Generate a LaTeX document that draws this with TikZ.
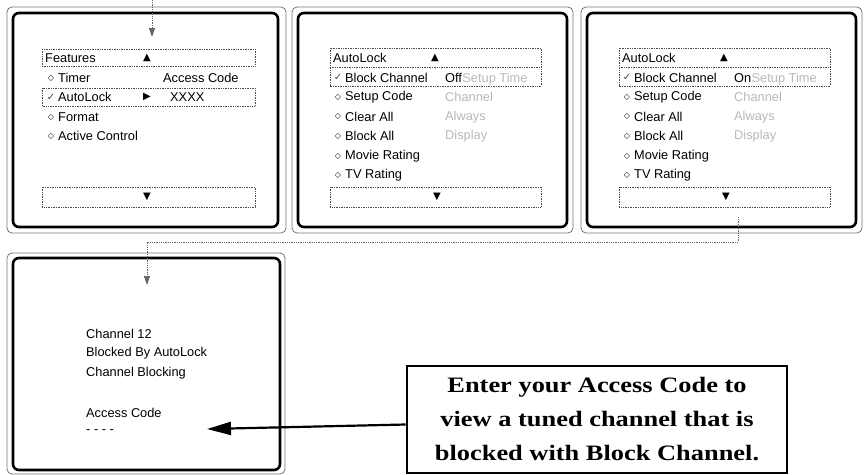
\documentclass[tikz,border=0pt]{standalone}
\usepackage{fontspec}
\setmainfont{Liberation Sans}
\newfontfamily\symfont{DejaVu Sans}
\newfontfamily\hintfont[FakeStretch=1.2]{Liberation Serif}
\usetikzlibrary{arrows.meta}

\tikzset{
  outerframe/.style={draw=black!55, line width=0.8pt, rounded corners=5pt},
  innerframe/.style={draw=black, line width=2.6pt, rounded corners=6pt},
  menubar/.style={draw=black!70, densely dotted, line width=0.7pt},
  menutext/.style={anchor=west, inner sep=0pt, font=\fontsize{12.8}{14}\selectfont},
  greytext/.style={menutext, text=black!28},
  bullet/.style={inner sep=0pt, font=\symfont\fontsize{8}{8}\selectfont},
  tickmark/.style={inner sep=0pt, text=black!75, font=\symfont\fontsize{10}{10}\selectfont},
  arrowmark/.style={inner sep=0pt, font=\symfont\fontsize{10}{10}\selectfont},
  flowline/.style={draw=black!60, densely dotted, line width=0.8pt, -{Triangle[width=6pt,length=9pt]}},
  bigarrow/.style={draw=black, line width=2.2pt, -{Triangle[width=13pt,length=24pt]}},
  hintbox/.style={draw=black, line width=2.6pt, minimum width=380pt, minimum height=107pt,
    align=center, inner sep=0pt, font=\hintfont\bfseries\fontsize{22}{34}\selectfont},
}

\begin{document}
\begin{tikzpicture}[x=1pt,y=-1pt]
  \useasboundingbox (0,0) rectangle (864,474);

  % first screen: Features menu
  \draw[outerframe] (7,7) rectangle (286,233);
  \draw[innerframe] (13,13) rectangle (278,227);
  \draw[menubar] (42,49) rectangle (255,66);
  \draw[menubar] (42,88) rectangle (255,106);
  \draw[menubar] (42,187) rectangle (255,207);
  \node[menutext] (features) at (45,58) {Features};
  \node[arrowmark] (up1) at (147,58) {▲};
  \node[bullet] (b11) at (51,78) {◇};
  \node[menutext] (timer) at (58,78) {Timer};
  \node[menutext] (access1) at (163,78) {Access Code};
  \node[tickmark] (b12) at (51,97) {✓};
  \node[menutext] (autolock) at (58,97) {AutoLock};
  \node[arrowmark] (right1) at (147,97) {▶};
  \node[menutext] (xxxx) at (170,97) {XXXX};
  \node[bullet] (b13) at (51,117) {◇};
  \node[menutext] (format) at (58,117) {Format};
  \node[bullet] (b14) at (51,136) {◇};
  \node[menutext] (active) at (58,136) {Active Control};
  \node[arrowmark] (down1) at (147,197) {▼};

  % second and third screen: AutoLock menu, Off and On
  \foreach \dx/\state/\p in {0/Off/a, 289/On/b} {
    \begin{scope}[xshift=\dx pt]
      \draw[outerframe] (292,7) rectangle (573,233);
      \draw[innerframe] (298,13) rectangle (567,227);
      \draw[menubar] (330,48) rectangle (541,86);
      \draw[menubar] (330,67) -- (541,67);
      \draw[menubar] (330,187) rectangle (541,207);
      \node[menutext] (title\p) at (333,58) {AutoLock};
      \node[arrowmark] (up\p) at (435,58) {▲};
      \foreach \txt [count=\i] in {Block Channel, Setup Code, Clear All, Block All, Movie Rating, TV Rating} {
        \ifnum\i=1
          \node[tickmark] (b\p\i) at (338,58+19.6*\i) {✓};
        \else
          \node[bullet] (b\p\i) at (338,58+19.6*\i) {◇};
        \fi
        \node[menutext] (item\p\i) at (345,58+19.6*\i) {\txt};
      }
      \node[menutext] (state\p) at (445,77.6) {\state};
      \node[greytext, anchor=base west] (time\p) at (state\p.base east) {Setup Time};
      \foreach \txt [count=\i from 2] in {Channel, Always, Display} {
        \node[greytext] (opt\p\i) at (445,58+19.6*\i) {\txt};
      }
      \node[arrowmark] (down\p) at (437,197) {▼};
    \end{scope}
  }

  % fourth screen: blocked channel
  \draw[outerframe] (7,253) rectangle (285,474);
  \draw[innerframe] (13,258) rectangle (280,470);
  \node[menutext] (chan) at (86,334) {Channel 12};
  \node[menutext] (blocked) at (86,353) {Blocked By AutoLock};
  \node[menutext] (blocking) at (86,373) {Channel Blocking};
  \node[menutext] (access4) at (86,413) {Access Code};
  \node[menutext] (dashes) at (86,432) {- - - -};

  % connectors
  \coordinate (entry) at (152,0);
  \coordinate (featin) at (152,37);
  \draw[flowline] (entry) -- (featin);
  \coordinate (lockout) at (738,217);
  \coordinate (blockin) at (147,285);
  \draw[flowline] (lockout) -- (738,242) -| (blockin);

  \node[hintbox] (hint) at (597,419.5) {Enter your Access Code to\\view a tuned channel that is\\blocked with Block Channel.};
  \coordinate (codefield) at (207,429);
  \draw[bigarrow] ([yshift=-5pt]hint.west) -- (codefield);
\end{tikzpicture}
\end{document}
